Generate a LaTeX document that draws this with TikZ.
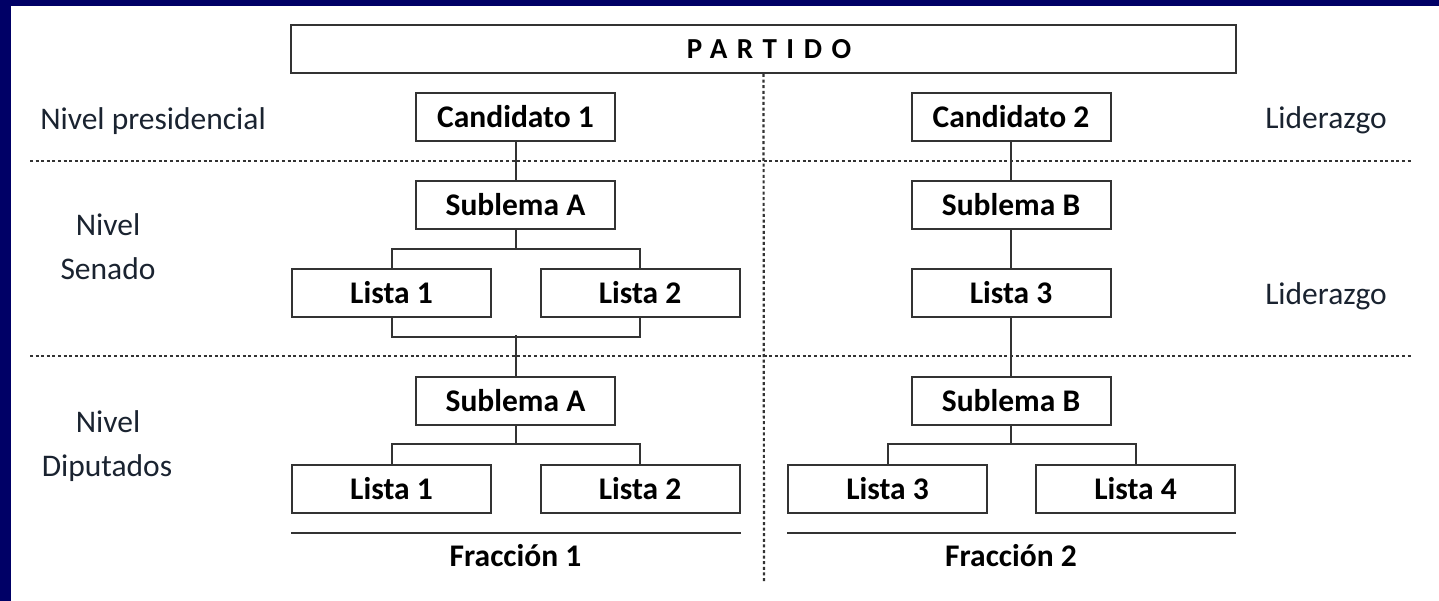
\documentclass[tikz,border=0pt]{standalone}
\usepackage{fontspec}
\setmainfont{Carlito}
\usetikzlibrary{calc}
\definecolor{navy}{HTML}{000066}
\definecolor{linegray}{HTML}{333333}
\definecolor{labelcol}{HTML}{1A2330}
\tikzset{
  box/.style={draw=linegray, line width=2pt, fill=white, minimum width=199pt, minimum height=48pt, inner sep=0pt, font=\fontsize{31.5}{36}\selectfont\bfseries},
  conn/.style={draw=linegray, line width=2pt},
  sep/.style={draw=linegray, line width=2.2pt, dash pattern=on 3pt off 2.6pt},
  lbl/.style={anchor=base, inner sep=0pt, text=labelcol, font=\fontsize{31.5}{36}\selectfont},
  frac/.style={anchor=base, inner sep=0pt, font=\fontsize{31.5}{36}\selectfont\bfseries}
}
\begin{document}
\begin{tikzpicture}[x=1pt,y=-1pt]
\useasboundingbox (0,0) rectangle (1439,601);
\fill[white] (0,0) rectangle (1439,601);
\fill[navy] (0,0) rectangle (1439,6);
\fill[navy] (0,0) rectangle (11,601);

% party box
\node[draw=linegray, line width=2pt, minimum width=945pt, minimum height=48pt, inner sep=0pt] (partido) at (763.5,49) {};
\node[anchor=base, inner sep=0pt, font=\fontsize{29}{34}\selectfont\bfseries\addfontfeature{LetterSpace=33}] (ptext) at (769,59) {PARTIDO};

% separators
\coordinate (vend) at (764,582);
\draw[sep] (partido.south) -- (vend);
\coordinate (s1a) at (30,161); \coordinate (s1b) at (1412,161);
\coordinate (s2a) at (30,356); \coordinate (s2b) at (1412,356);
\draw[sep] (s1a) -- (s1b);
\draw[sep] (s2a) -- (s2b);

% presidential level
\node[box] (c1) at (515.5,117) {Candidato 1};
\node[box] (c2) at (1011,117) {Candidato 2};

% senate level
\node[box] (sa1) at (515.5,205) {Sublema A};
\node[box] (sb1) at (1011,205) {Sublema B};
\node[box] (l1s) at (391.5,293) {Lista 1};
\node[box] (l2s) at (640,293) {Lista 2};
\node[box] (l3s) at (1011,293) {Lista 3};

% deputies level
\node[box] (sa2) at (515.5,401) {Sublema A};
\node[box] (sb2) at (1011,401) {Sublema B};
\node[box] (l1d) at (391.5,489) {Lista 1};
\node[box] (l2d) at (640,489) {Lista 2};
\node[box] (l3d) at (887.5,489) {Lista 3};
\node[box] (l4d) at (1135.5,489) {Lista 4};

% connectors
\draw[conn] (c1) -- (sa1);
\draw[conn] (c2) -- (sb1);
\draw[conn] (sa1.south) -- ++(0,19) -| (l1s.north);
\draw[conn] (sa1.south) -- ++(0,19) -| (l2s.north);
\draw[conn] (l1s.south) -- ++(0,19) -| (l2s.south);
\coordinate (jA) at ($(sa2.north)+(0,-41)$);
\draw[conn] (jA) -- (sa2.north);
\draw[conn] (sb1) -- (l3s);
\draw[conn] (l3s) -- (sb2);
\draw[conn] (sa2.south) -- ++(0,18) -| (l1d.north);
\draw[conn] (sa2.south) -- ++(0,18) -| (l2d.north);
\draw[conn] (sb2.south) -- ++(0,18) -| (l3d.north);
\draw[conn] (sb2.south) -- ++(0,18) -| (l4d.north);

% fraction lines
\draw[conn] ($(l1d.south west)+(0,19)$) -- ($(l2d.south east)+(0,19)$);
\draw[conn] ($(l3d.south west)+(0,19)$) -- ($(l4d.south east)+(0,19)$);
\node[frac] (f1) at (515.5,566) {Fracción 1};
\node[frac] (f2) at (1011,566) {Fracción 2};

% level labels
\node[lbl] (np) at (153,130) {Nivel presidencial};
\node[lbl] (ns1) at (108,236) {Nivel};
\node[lbl] (ns2) at (108,280) {Senado};
\node[lbl] (nd1) at (108,432) {Nivel};
\node[lbl] (nd2) at (107,476) {Diputados};
\node[lbl] (lid1) at (1326,129) {Liderazgo};
\node[lbl] (lid2) at (1326,305) {Liderazgo};
\end{tikzpicture}
\end{document}
